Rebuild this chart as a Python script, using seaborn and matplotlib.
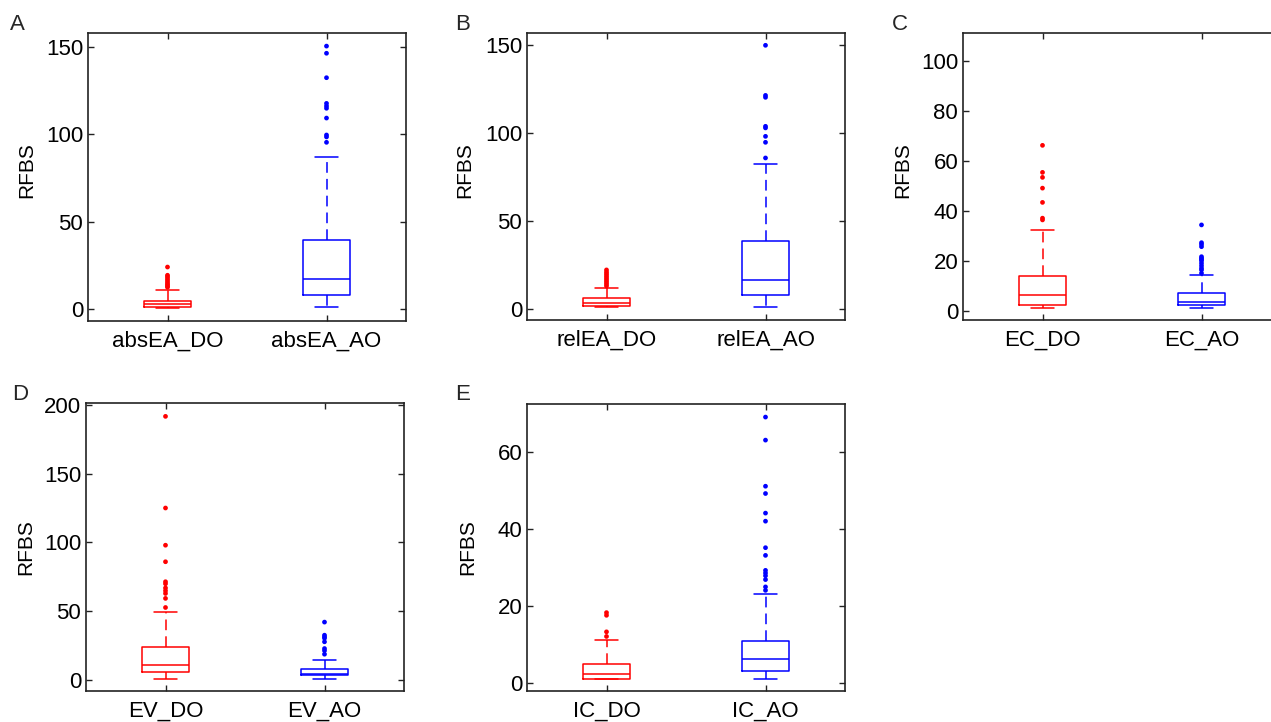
import numpy as np
import pandas as pd
import matplotlib
matplotlib.use("Agg")
import matplotlib.pyplot as plt
import seaborn as sns

# ---- data: box summaries (q1, median, q3, lower whisker, upper whisker) and outliers ----
labels_A = ["absEA_DO", "absEA_AO"]
box_A = [[1.0, 2.7, 4.75, 0.6, 10.9], [7.8, 17.0, 39.5, 1.0, 87.0]]
out_A_do = [24.0, 19.3, 18.5, 17.5, 16.5, 15.5, 14.5, 13.8, 13.0, 12.4]
out_A_ao = [150.5, 146.4, 132.4, 117.7, 116.2, 114.9, 109.3, 99.6, 98.5, 95.4]

labels_B = ["relEA_DO", "relEA_AO"]
box_B = [[1.7, 3.6, 6.4, 1.1, 11.8], [7.8, 16.5, 38.9, 1.0, 82.2]]
out_B_do = [22.2, 21.0, 20.0, 19.0, 18.0, 17.0, 16.0, 15.0, 14.0, 13.0]
out_B_ao = [150.0, 121.5, 120.4, 103.9, 103.0, 98.2, 94.8, 85.9]

labels_C = ["EC_DO", "EC_AO"]
box_C = [[2.3, 6.2, 14.0, 1.2, 32.2], [2.3, 3.5, 7.1, 1.2, 14.2]]
out_C_do = [66.1, 55.3, 53.3, 49.0, 43.3, 37.0, 36.3]
out_C_ao = [34.3, 27.2, 26.5, 25.6, 21.6, 21.0, 20.5, 20.0, 19.0, 18.0, 17.0, 16.3, 15.0]

labels_D = ["EV_DO", "EV_AO"]
box_D = [[6.1, 11.2, 24.2, 1.2, 49.7], [3.6, 4.6, 8.0, 1.2, 15.0]]
out_D_do = [191.5, 125.0, 98.0, 86.0, 71.5, 70.0, 67.0, 65.0, 63.0, 59.4, 52.8]
out_D_ao = [42.2, 32.7, 31.5, 30.5, 27.9, 23.0, 21.5, 18.9]

labels_E = ["IC_DO", "IC_AO"]
box_E = [[1.0, 2.1, 4.8, 1.0, 11.0], [3.1, 6.0, 10.9, 1.0, 23.0]]
out_E_do = [18.2, 17.5, 13.2, 12.0]
out_E_ao = [69.1, 63.1, 51.1, 49.2, 44.1, 42.0, 35.1, 33.1, 29.2, 28.5, 27.8, 26.8, 24.9, 24.0]

panels = [
    ("A", labels_A, box_A, out_A_do, out_A_ao, (-6.9, 158), [0, 50, 100, 150]),
    ("B", labels_B, box_B, out_B_do, out_B_ao, (-6.3, 157), [0, 50, 100, 150]),
    ("C", labels_C, box_C, out_C_do, out_C_ao, (-3.7, 111), [0, 20, 40, 60, 80, 100]),
    ("D", labels_D, box_D, out_D_do, out_D_ao, (-7.8, 201.2), [0, 50, 100, 150, 200]),
    ("E", labels_E, box_E, out_E_do, out_E_ao, (-2.2, 72.5), [0, 20, 40, 60]),
]

# axes placement in pixels: left, top, bottom (width is shared), y-label height
W, H = 1271, 722
ax_px = {
    "A": (88, 33, 321, 0.525),
    "B": (527, 33, 320, 0.522),
    "C": (963, 33, 320, 0.522),
    "D": (86, 403, 691, 0.5),
    "E": (527, 404, 691, 0.5),
}
ax_w = 318
label_x = {"A": -0.164, "B": -0.167, "C": -0.161, "D": -0.16, "E": -0.158}
letter_px = {"A": (10, 24), "B": (455, 24), "C": (892, 24), "D": (12, 395), "E": (455, 395)}

sns.set_style("ticks")
plt.rcParams["font.family"] = ["Liberation Sans", "DejaVu Sans"]

colors = ["#ff0000", "#0000ff"]

fig = plt.figure(figsize=(W / 100, H / 100), dpi=100)

for key, labels, boxes, out_do, out_ao, ylim, yticks in panels:
    left, top, bottom, ly_frac = ax_px[key]
    ax = fig.add_axes([left / W, 1 - bottom / H, ax_w / W, (bottom - top) / H])

    # outliers through seaborn's categorical axis
    df = pd.DataFrame({
        "group": [labels[0]] * len(out_do) + [labels[1]] * len(out_ao),
        "RFBS": out_do + out_ao,
    })
    sns.stripplot(data=df, x="group", y="RFBS", order=labels, hue="group",
                  hue_order=labels, palette=colors, jitter=False, size=3.4,
                  linewidth=0, legend=False, ax=ax, zorder=3)

    # boxes from the summary statistics
    for i, (b, c) in enumerate(zip(boxes, colors)):
        q1, med, q3, lo, hi = b
        stats = [dict(q1=q1, med=med, q3=q3, whislo=lo, whishi=hi, fliers=[])]
        ax.bxp(stats, positions=[i], widths=0.3, showfliers=False,
               manage_ticks=False, capwidths=0.15,
               boxprops=dict(color=c, linewidth=1.1),
               medianprops=dict(color=c, linewidth=1.1),
               whiskerprops=dict(color=c, linewidth=1.1, linestyle=(0, (7, 4))),
               capprops=dict(color=c, linewidth=1.1))

    ax.set_xlim(-0.5, 1.5)
    ax.set_ylim(*ylim)
    ax.set_yticks(yticks)
    ax.set_xticks([0, 1])
    ax.set_xticklabels(labels)
    ax.set_xlabel("")
    ax.set_ylabel("RFBS", fontsize=15, color="black")
    ax.yaxis.set_label_coords(label_x[key], ly_frac)
    ax.tick_params(direction="in", length=4, width=1.0, labelsize=16,
                   top=True, right=True, colors="#222222", labelcolor="black")
    ax.tick_params(axis="x", pad=7)
    for s in ax.spines.values():
        s.set_linewidth(1.2)
        s.set_color("#222222")

    lx, ly = letter_px[key]
    fig.text(lx / W, 1 - ly / H, key, fontsize=16, ha="left", va="center")

fig.savefig("out.png", dpi=100)
